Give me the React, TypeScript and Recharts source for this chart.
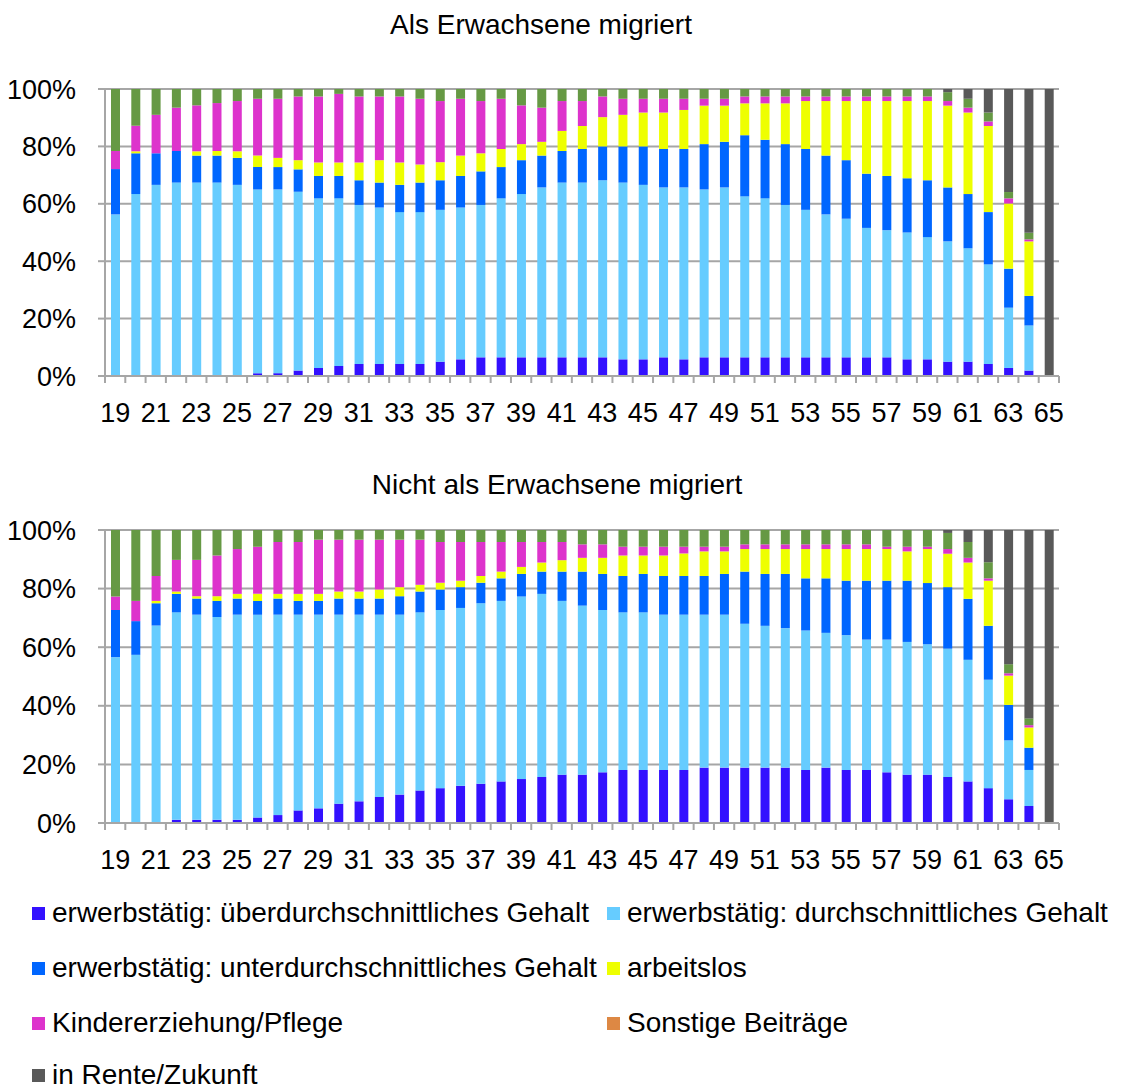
import React from "react";
import { BarChart, Bar, XAxis, YAxis, CartesianGrid } from "recharts";

const ages = [
  19, 20, 21, 22, 23, 24, 25, 26, 27, 28, 29, 30, 31, 32, 33, 34, 35, 36, 37, 38, 39, 40, 41, 42,
  43, 44, 45, 46, 47, 48, 49, 50, 51, 52, 53, 54, 55, 56, 57, 58, 59, 60, 61, 62, 63, 64, 65,
];

// Als Erwachsene migriert
const aUeber = [0, 0, 0, 0, 0, 0, 0, 1.0, 1.0, 1.9, 2.8, 3.5, 4.2, 4.2, 4.2, 4.2, 5.0, 5.8, 6.5, 6.5, 6.5, 6.5, 6.5, 6.5, 6.5, 5.8, 5.8, 6.5, 5.8, 6.5, 6.5, 6.5, 6.5, 6.5, 6.5, 6.5, 6.5, 6.5, 6.5, 5.8, 5.8, 5.0, 5.0, 4.2, 2.8, 1.9, 0];
const aDurch = [56.3, 63.4, 66.6, 67.4, 67.4, 67.4, 66.6, 64.0, 64.0, 62.3, 59.1, 58.4, 55.4, 54.5, 52.9, 52.9, 52.9, 52.9, 53.1, 55.4, 56.9, 59.2, 60.9, 60.9, 61.7, 61.6, 60.8, 59.2, 59.9, 58.5, 59.2, 56.1, 55.4, 53.1, 51.4, 49.8, 48.3, 45.1, 44.3, 44.2, 42.6, 41.9, 39.5, 34.7, 21.0, 15.7, 0];
const aUnter = [15.8, 14.2, 11.0, 11.0, 9.4, 9.4, 9.4, 7.8, 7.8, 7.8, 7.8, 7.8, 8.6, 8.7, 9.5, 10.3, 10.3, 11.0, 11.7, 10.9, 11.8, 11.1, 11.0, 11.7, 11.8, 12.6, 13.4, 13.4, 13.4, 15.8, 15.9, 21.3, 20.4, 21.2, 21.2, 20.5, 20.4, 18.9, 18.9, 18.9, 19.8, 18.8, 18.9, 18.2, 13.6, 10.3, 0];
const aArbeitslos = [0, 0.7, 0, 0, 1.5, 1.6, 2.3, 4.0, 3.2, 3.2, 4.7, 4.7, 6.2, 7.8, 7.8, 6.3, 6.3, 7.1, 6.3, 6.3, 5.6, 4.8, 7.0, 8.0, 10.2, 11.0, 11.8, 12.7, 13.6, 13.4, 12.6, 11.1, 12.7, 14.2, 16.7, 19.0, 20.6, 25.3, 26.1, 26.9, 27.6, 28.5, 28.4, 30.0, 22.7, 19.0, 0];
const aKinder = [6.3, 8.9, 13.4, 15.1, 16.0, 16.7, 17.5, 19.8, 20.6, 22.2, 23.0, 23.9, 23.0, 22.2, 23.0, 22.9, 21.3, 19.8, 18.2, 17.5, 13.5, 11.9, 10.4, 8.7, 7.2, 5.6, 4.8, 4.8, 3.9, 2.4, 2.4, 2.4, 2.4, 2.4, 1.6, 1.6, 1.6, 1.6, 1.6, 1.6, 1.6, 1.6, 1.7, 1.6, 1.8, 0.7, 0];
const aSonstige = [0, 0, 0, 0, 0, 0, 0, 0, 0, 0, 0, 0, 0, 0, 0, 0, 0, 0, 0, 0, 0, 0, 0, 0, 0, 0, 0, 0, 0, 0, 0, 0, 0, 0, 0, 0, 0, 0, 0, 0, 0, 0, 0, 0, 0, 0, 0];
const aOhne = [21.6, 12.8, 9.0, 6.5, 5.7, 4.9, 4.2, 3.4, 3.4, 2.6, 2.6, 1.7, 2.6, 2.6, 2.6, 3.4, 4.2, 3.4, 4.2, 3.4, 5.7, 6.5, 4.2, 4.2, 2.6, 3.4, 3.4, 3.4, 3.4, 3.4, 3.4, 2.6, 2.6, 2.6, 2.6, 2.6, 2.6, 2.6, 2.6, 2.6, 2.6, 3.1, 3.1, 3.1, 2.2, 2.3, 0];
const aRente = [0, 0, 0, 0, 0, 0, 0, 0, 0, 0, 0, 0, 0, 0, 0, 0, 0, 0, 0, 0, 0, 0, 0, 0, 0, 0, 0, 0, 0, 0, 0, 0, 0, 0, 0, 0, 0, 0, 0, 0, 0, 1.1, 3.4, 8.2, 35.9, 50.1, 100];

// Nicht als Erwachsene migriert
const bUeber = [0, 0, 0, 1.1, 1.1, 1.1, 1.1, 1.9, 2.7, 4.3, 5.0, 6.6, 7.4, 8.9, 9.7, 11.1, 11.9, 12.7, 13.4, 14.2, 15.0, 15.7, 16.5, 16.5, 17.3, 18.1, 18.1, 18.1, 18.1, 18.9, 18.9, 18.9, 18.9, 18.9, 18.1, 18.9, 18.1, 18.1, 17.3, 16.5, 16.5, 15.7, 14.2, 11.9, 8.1, 5.8, 0];
const bDurch = [56.6, 57.4, 67.4, 70.8, 70.0, 69.2, 70.0, 69.2, 68.4, 66.8, 66.1, 64.5, 63.7, 62.2, 61.4, 60.8, 60.8, 60.7, 61.6, 61.6, 62.3, 62.5, 59.3, 57.7, 55.4, 53.8, 53.8, 53.0, 53.0, 52.2, 52.2, 49.1, 48.4, 47.6, 47.6, 46.0, 46.0, 44.5, 45.3, 45.3, 44.5, 43.8, 41.5, 37.0, 20.1, 12.3, 0];
const bUnter = [16.1, 11.5, 7.6, 6.3, 5.5, 5.5, 5.5, 4.7, 5.5, 4.7, 4.7, 5.5, 5.5, 5.5, 6.3, 7.1, 7.0, 7.1, 7.0, 7.7, 7.7, 7.6, 10.0, 11.6, 12.3, 12.4, 13.1, 13.2, 13.2, 13.2, 13.9, 17.8, 17.7, 18.5, 17.8, 18.6, 18.6, 20.1, 20.1, 20.9, 20.9, 21.0, 20.8, 18.4, 12.1, 7.6, 0];
const bArbeitslos = [0, 0, 0.8, 0.8, 0.8, 1.6, 1.6, 2.4, 1.6, 2.4, 2.4, 2.4, 2.4, 3.1, 3.1, 2.3, 2.3, 2.2, 2.3, 2.3, 2.4, 3.1, 3.9, 4.7, 5.5, 7.0, 6.3, 7.0, 7.7, 8.4, 7.7, 7.7, 8.5, 8.5, 10.0, 10.0, 10.8, 10.8, 10.8, 10.0, 11.6, 11.4, 12.4, 15.4, 10.0, 6.9, 0];
const bKinder = [4.6, 6.9, 8.5, 10.8, 12.4, 13.9, 15.3, 16.1, 17.7, 17.7, 18.5, 17.7, 17.7, 17.0, 16.2, 15.4, 13.9, 13.2, 11.6, 10.1, 8.5, 7.0, 6.2, 4.6, 4.6, 3.0, 3.0, 3.0, 2.3, 1.6, 1.6, 1.6, 1.6, 1.6, 1.6, 1.6, 1.6, 1.6, 0.8, 1.6, 0.8, 1.6, 1.6, 0.8, 0.8, 0.8, 0];
const bSonstige = [0, 0, 0, 0, 0, 0, 0, 0, 0, 0, 0, 0, 0, 0, 0, 0, 0, 0, 0, 0, 0, 0, 0, 0, 0, 0, 0, 0, 0, 0, 0, 0, 0, 0, 0, 0, 0, 0, 0, 0, 0, 0, 0, 0, 0, 0, 0];
const bOhne = [22.7, 24.2, 15.7, 10.2, 10.2, 8.7, 6.5, 5.7, 4.1, 4.1, 3.3, 3.3, 3.3, 3.3, 3.3, 3.3, 4.1, 4.1, 4.1, 4.1, 4.1, 4.1, 4.1, 4.9, 4.9, 5.7, 5.7, 5.7, 5.7, 5.7, 5.7, 4.9, 4.9, 4.9, 4.9, 4.9, 4.9, 4.9, 5.7, 5.7, 5.7, 5.5, 5.4, 5.5, 3.1, 2.3, 0];
const bRente = [0, 0, 0, 0, 0, 0, 0, 0, 0, 0, 0, 0, 0, 0, 0, 0, 0, 0, 0, 0, 0, 0, 0, 0, 0, 0, 0, 0, 0, 0, 0, 0, 0, 0, 0, 0, 0, 0, 0, 0, 0, 1.0, 4.1, 11.0, 45.8, 64.3, 100];

const series = [
  { key: "ueber", name: "erwerbstätig: überdurchschnittliches Gehalt", color: "#3311ff" },
  { key: "durch", name: "erwerbstätig: durchschnittliches Gehalt", color: "#66ccff" },
  { key: "unter", name: "erwerbstätig: unterdurchschnittliches Gehalt", color: "#0066ff" },
  { key: "arbeitslos", name: "arbeitslos", color: "#eeff00" },
  { key: "kinder", name: "Kindererziehung/Pflege", color: "#dd33cc" },
  { key: "sonstige", name: "Sonstige Beiträge", color: "#dd8844" },
  { key: "ohne", name: "", color: "#669944" },
  { key: "rente", name: "in Rente/Zukunft", color: "#595959" },
];

const buildRows = (cols: Record<string, number[]>) =>
  ages.map((age, i) => {
    const row: Record<string, number> = { age };
    Object.keys(cols).forEach((k) => (row[k] = cols[k][i]));
    return row;
  });

const dataA = buildRows({ ueber: aUeber, durch: aDurch, unter: aUnter, arbeitslos: aArbeitslos, kinder: aKinder, sonstige: aSonstige, ohne: aOhne, rente: aRente });
const dataB = buildRows({ ueber: bUeber, durch: bDurch, unter: bUnter, arbeitslos: bArbeitslos, kinder: bKinder, sonstige: bSonstige, ohne: bOhne, rente: bRente });

const FONT = '"Liberation Sans Narrow", "Arial Narrow", "Liberation Sans", sans-serif';
const GRID = "#a6a6a6";
const W = 1121;
const LEFT = 105;
const RIGHT = 62;
const BAND = (W - LEFT - RIGHT) / ages.length;
const FS = 27;

const AgeTick = (props: any) => {
  const { x, y, payload, index } = props;
  const axisY = y - 6 - 21;
  const last = index === ages.length - 1;
  return (
    <g>
      <line x1={x - BAND / 2} x2={x - BAND / 2} y1={axisY} y2={axisY + 7} stroke={GRID} strokeWidth={2} />
      {last && <line x1={x + BAND / 2} x2={x + BAND / 2} y1={axisY} y2={axisY + 7} stroke={GRID} strokeWidth={2} />}
      {payload.value % 2 === 1 && (
        <text x={x} y={y} dy="0.71em" textAnchor="middle" fontSize={FS} fontFamily={FONT} fill="#000">
          {payload.value}
        </text>
      )}
    </g>
  );
};

const StackChart = ({ data, height, top, xHeight }: { data: any[]; height: number; top: number; xHeight: number }) => (
  <BarChart width={W} height={height} data={data} stackOffset="expand" barSize={9} margin={{ top, right: RIGHT, left: 0, bottom: 0 }}>
    <CartesianGrid vertical={false} stroke={GRID} strokeWidth={2} />
    <XAxis
      dataKey="age"
      interval={0}
      height={xHeight}
      tickSize={6}
      tickMargin={21}
      tickLine={false}
      axisLine={{ stroke: GRID, strokeWidth: 2 }}
      tick={<AgeTick />}
    />
    <YAxis
      width={LEFT}
      domain={[0, 1]}
      ticks={[0, 0.2, 0.4, 0.6, 0.8, 1]}
      tickFormatter={(v: number) => `${Math.round(v * 100)}%`}
      tickSize={7}
      tickMargin={22}
      tickLine={{ stroke: GRID, strokeWidth: 2 }}
      axisLine={{ stroke: GRID, strokeWidth: 2 }}
      tick={{ fontSize: FS, fontFamily: FONT, fill: "#000" }}
    />
    {series.map((s) => (
      <Bar key={s.key} dataKey={s.key} stackId="a" fill={s.color} isAnimationActive={false} />
    ))}
  </BarChart>
);

const legendItems = [
  { idx: 0, x: 32, y: 913 },
  { idx: 1, x: 607, y: 913 },
  { idx: 2, x: 32, y: 968 },
  { idx: 3, x: 607, y: 968 },
  { idx: 4, x: 32, y: 1023 },
  { idx: 5, x: 607, y: 1023 },
  { idx: 7, x: 32, y: 1075 },
];

const App: React.FC = () => {
  return (
    <div style={{ position: "absolute", left: 0, top: 0, width: W, height: 1090, overflow: "hidden", background: "#fff", fontFamily: FONT }}>
      <div style={{ position: "absolute", left: 0, width: 1082, top: 9, textAlign: "center", fontSize: 28, lineHeight: "32px" }}>
        Als Erwachsene migriert
      </div>
      <div style={{ position: "absolute", left: 0, top: 0 }}>
        <StackChart data={dataA} height={450} top={89} xHeight={74} />
      </div>
      <div style={{ position: "absolute", left: 0, width: 1114, top: 469, textAlign: "center", fontSize: 28, lineHeight: "32px" }}>
        Nicht als Erwachsene migriert
      </div>
      <div style={{ position: "absolute", left: 0, top: 440 }}>
        <StackChart data={dataB} height={460} top={90} xHeight={77} />
      </div>
      {legendItems.map((it) => {
        const s = series[it.idx];
        return (
          <div key={s.key} style={{ position: "absolute", left: it.x, top: it.y - 15, height: 30, lineHeight: "30px", display: "flex", alignItems: "center", fontSize: 28, whiteSpace: "nowrap" }}>
            <span style={{ display: "inline-block", width: 13, height: 13, background: s.color, marginRight: 7 }} />
            {s.name}
          </div>
        );
      })}
    </div>
  );
};

export default App;
